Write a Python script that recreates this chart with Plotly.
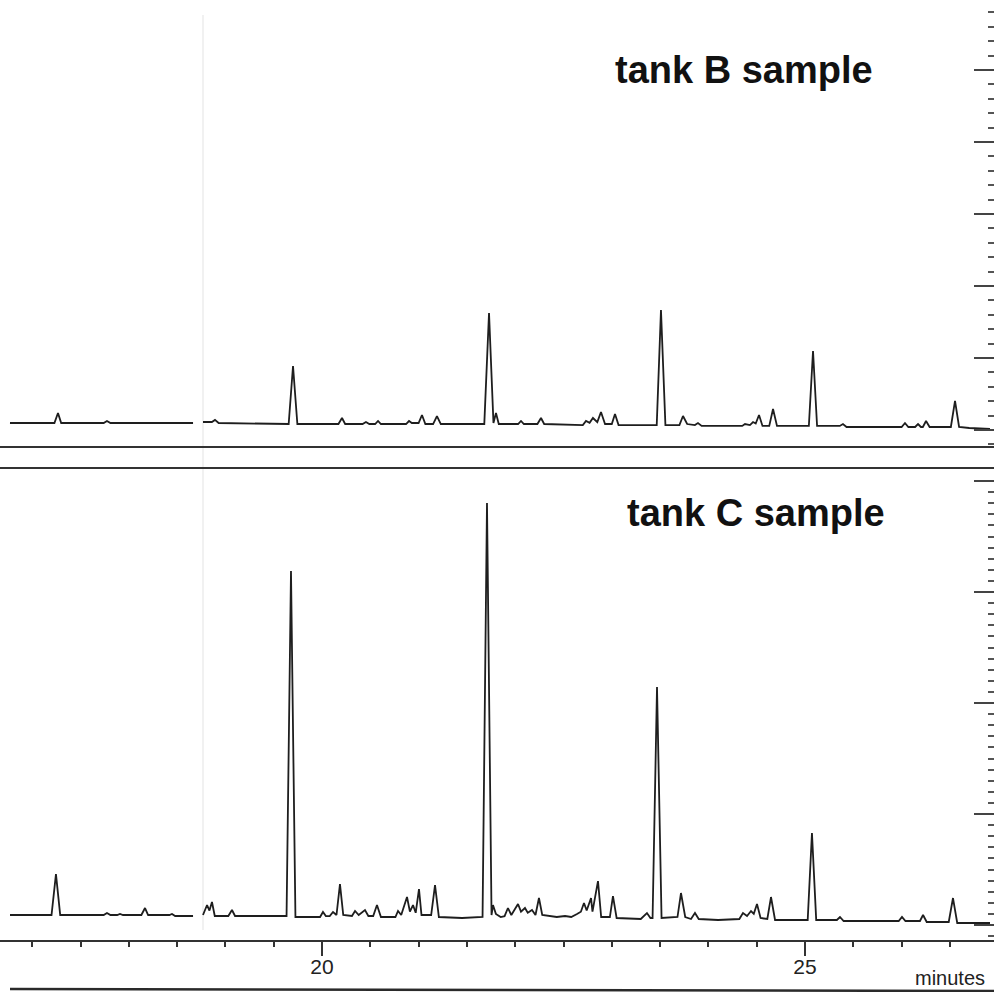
import plotly.graph_objects as go

# ---------------- data ----------------
# retention time (minutes) and detector signal (arbitrary units); None = gap in the scan
tankB_time = [
    16.770, 17.23, 17.267, 17.30, 17.74, 17.774, 17.81, 18.665, None,
    18.768, 18.86, 18.892, 18.93,
    19.655, 19.700, 19.745,
    20.17, 20.207, 20.24, 20.42, 20.455, 20.49, 20.55, 20.580, 20.61,
    20.87, 20.901, 20.93, 21.00, 21.035, 21.07, 21.15, 21.190, 21.23,
    21.680, 21.729, 21.775, 21.801, 21.83,
    22.03, 22.060, 22.09, 22.23, 22.267, 22.30,
    22.70, 22.733, 22.77, 22.805, 22.85, 22.888, 22.93,
    23.00, 23.033, 23.07,
    23.465, 23.509, 23.555,
    23.70, 23.737, 23.78, 23.86, 23.892, 23.93,
    24.35, 24.379, 24.43, 24.462, 24.49, 24.524, 24.56,
    24.63, 24.669, 24.71,
    25.040, 25.083, 25.125,
    25.36, 25.393, 25.43,
    26.00, 26.035, 26.07, 26.14, 26.170, 26.20, 26.22, 26.253, 26.29,
    26.510, 26.553, 26.595,
    26.70, 26.915,
]
tankB_signal = [
    0.97, 0.97, 2.36, 0.97, 0.97, 1.25, 0.97, 0.97, None,
    1.11, 1.11, 1.40, 0.97,
    0.83, 8.89, 0.83,
    0.83, 1.67, 0.83, 0.83, 1.11, 0.83, 0.83, 1.25, 0.83,
    0.83, 1.25, 0.97, 0.97, 2.08, 0.83, 0.83, 1.94, 0.83,
    0.83, 16.25, 0.97, 2.36, 0.83,
    0.83, 1.25, 0.83, 0.83, 1.67, 0.83,
    0.69, 1.25, 1.00, 1.67, 1.10, 2.50, 0.83,
    0.83, 2.22, 0.69,
    0.69, 16.67, 0.69,
    0.69, 1.94, 0.83, 0.69, 0.97, 0.56,
    0.56, 0.83, 0.69, 1.11, 0.90, 2.08, 0.56,
    0.56, 2.92, 0.56,
    0.56, 10.97, 0.56,
    0.56, 0.83, 0.42,
    0.42, 0.97, 0.42, 0.42, 0.83, 0.42, 0.42, 1.25, 0.42,
    0.42, 4.03, 0.42,
    0.28, 0.14,
]

tankC_time = [
    16.770, 17.20, 17.246, 17.29, 17.74, 17.774, 17.81, 17.88, 17.909, 17.94,
    18.13, 18.168, 18.20, 18.42, 18.447, 18.48, 18.665, None,
    18.768, 18.810, 18.835, 18.861, 18.89, 19.03, 19.068, 19.10,
    19.633, 19.679, 19.725,
    19.98, 20.010, 20.04, 20.08, 20.114, 20.15, 20.186, 20.22,
    20.31, 20.342, 20.38, 20.445, 20.48, 20.53, 20.569, 20.61,
    20.76, 20.787, 20.82, 20.880, 20.91, 20.942, 20.97, 21.004, 21.03, 21.13, 21.170, 21.21,
    21.45, 21.662, 21.708, 21.755, 21.770, 21.80, 21.85,
    21.89, 21.925, 21.96, 22.029, 22.06, 22.101, 22.13, 22.174, 22.21, 22.246, 22.28,
    22.350, 22.43, 22.516, 22.58, 22.640, 22.68, 22.712, 22.74, 22.785, 22.80, 22.857, 22.89,
    22.98, 23.012, 23.05,
    23.30, 23.364, 23.40,
    23.422, 23.468, 23.515,
    23.68, 23.716, 23.76, 23.82, 23.861, 23.90,
    24.10, 24.32, 24.358, 24.40, 24.441, 24.47, 24.503, 24.54,
    24.61, 24.648, 24.69,
    25.028, 25.072, 25.116,
    25.33, 25.362, 25.40,
    25.97, 26.004, 26.04,
    26.19, 26.222, 26.26,
    26.488, 26.532, 26.576,
    26.915,
]
tankC_signal = [
    0.90, 0.90, 4.59, 0.90, 0.90, 1.08, 0.90, 0.90, 1.00, 0.90,
    0.90, 1.53, 0.90, 0.90, 0.99, 0.81, 0.81, None,
    0.90, 1.80, 1.30, 2.07, 0.81, 0.81, 1.35, 0.81,
    0.81, 31.89, 0.72,
    0.72, 1.17, 0.80, 0.80, 1.17, 0.90, 3.69, 0.90,
    0.81, 1.26, 0.90, 1.35, 0.81, 0.81, 1.80, 0.72,
    0.72, 1.26, 0.90, 2.52, 1.20, 1.80, 1.10, 3.24, 0.90, 0.90, 3.60, 0.72,
    0.63, 0.72, 38.02, 0.90, 1.80, 1.00, 0.72,
    0.80, 1.53, 0.90, 1.89, 1.20, 1.53, 1.10, 1.35, 0.90, 2.43, 0.90,
    0.81, 0.72, 0.81, 0.72, 0.99, 1.20, 1.98, 1.30, 2.43, 1.20, 3.96, 0.72,
    0.72, 2.61, 0.63,
    0.54, 1.08, 0.63,
    0.63, 21.44, 0.63,
    0.72, 2.88, 0.72, 0.54, 1.08, 0.54,
    0.45, 0.54, 1.08, 0.81, 1.26, 1.00, 1.89, 0.63,
    0.54, 2.52, 0.45,
    0.45, 8.29, 0.45,
    0.45, 0.72, 0.36,
    0.36, 0.72, 0.36,
    0.36, 0.90, 0.27,
    0.27, 2.43, 0.18,
    0.18,
]

panel_labels = ["tank B sample", "tank C sample"]
x_title = "minutes"

# ---------------- figure ----------------
W, H = 994, 992
ink = "#1e1e1e"
font_fam = "Liberation Sans, Arial, sans-serif"

fig = go.Figure()
fig.add_trace(go.Scatter(x=tankB_time, y=tankB_signal, mode="lines",
                         line=dict(color=ink, width=1.8), connectgaps=False,
                         xaxis="x", yaxis="y", showlegend=False, hoverinfo="skip"))
fig.add_trace(go.Scatter(x=tankC_time, y=tankC_signal, mode="lines",
                         line=dict(color=ink, width=1.8), connectgaps=False,
                         xaxis="x2", yaxis="y2", showlegend=False, hoverinfo="skip"))


def py(pix):
    return 1 - pix / H


x_range = [20 - 322 / 96.6, 20 + (W - 322) / 96.6]

fig.update_layout(
    width=W, height=H,
    margin=dict(l=0, r=0, t=0, b=0),
    paper_bgcolor="white", plot_bgcolor="white",
    font=dict(family=font_fam, color="#222222"),
    xaxis=dict(domain=[0, 1], range=x_range, anchor="y",
               showgrid=False, zeroline=False, showticklabels=False,
               showline=True, linecolor="#333333", linewidth=2, ticks=""),
    yaxis=dict(domain=[py(446), 1], range=[(430 - 446) / 7.2, 430 / 7.2],
               side="right", anchor="x", showgrid=False, zeroline=False,
               showticklabels=False, showline=False,
               ticks="inside", ticklen=20, tickwidth=2, tickcolor="#444444",
               tick0=0, dtick=10,
               minor=dict(ticks="inside", dtick=2, ticklen=6, tickwidth=2,
                          tickcolor="#555555", showgrid=False)),
    xaxis2=dict(domain=[0, 1], range=x_range, anchor="y2",
                showgrid=False, zeroline=False,
                showline=True, mirror=True, linecolor="#333333", linewidth=2,
                ticks="outside", ticklen=14, tickwidth=1.5, tickcolor="#333333",
                tick0=0, dtick=5, ticklabelstandoff=-7,
                tickfont=dict(size=21, color="#222222", family=font_fam),
                minor=dict(ticks="outside", dtick=0.5, ticklen=5, tickwidth=1.5,
                           tickcolor="#333333", showgrid=False)),
    yaxis2=dict(domain=[py(940), py(469)], range=[(925 - 940) / 11.1, (925 - 469) / 11.1],
                side="right", anchor="x2", showgrid=False, zeroline=False,
                showticklabels=False, showline=False,
                ticks="inside", ticklen=20, tickwidth=2, tickcolor="#444444",
                tick0=0, dtick=10,
                minor=dict(ticks="inside", dtick=1, ticklen=6, tickwidth=2,
                           tickcolor="#555555", showgrid=False)),
)

# panel titles
fig.add_annotation(text="<b>" + panel_labels[0] + "</b>", xref="paper", yref="paper",
                   x=744 / W, y=py(70), xanchor="center", yanchor="middle", showarrow=False,
                   font=dict(size=38, color="#111111", family=font_fam))
fig.add_annotation(text="<b>" + panel_labels[1] + "</b>", xref="paper", yref="paper",
                   x=756 / W, y=py(513), xanchor="center", yanchor="middle", showarrow=False,
                   font=dict(size=38, color="#111111", family=font_fam))
fig.add_annotation(text=x_title, xref="paper", yref="paper",
                   x=950 / W, y=py(978), xanchor="center", yanchor="middle", showarrow=False,
                   font=dict(size=20, color="#222222", family=font_fam))

# faint scan artefact and the bottom border line of the printout
fig.add_shape(type="line", xref="paper", yref="paper", x0=203 / W, x1=203 / W,
              y0=py(930), y1=py(15), line=dict(color="#f1f1f1", width=2), layer="below")
fig.add_shape(type="line", xref="paper", yref="paper", x0=10 / W, x1=1,
              y0=py(989), y1=py(991), line=dict(color="#2a2a2a", width=2.5))

fig.write_html("out.html", config={"displayModeBar": False},
               post_script="document.body.style.margin='0';document.body.style.overflow='hidden';")
